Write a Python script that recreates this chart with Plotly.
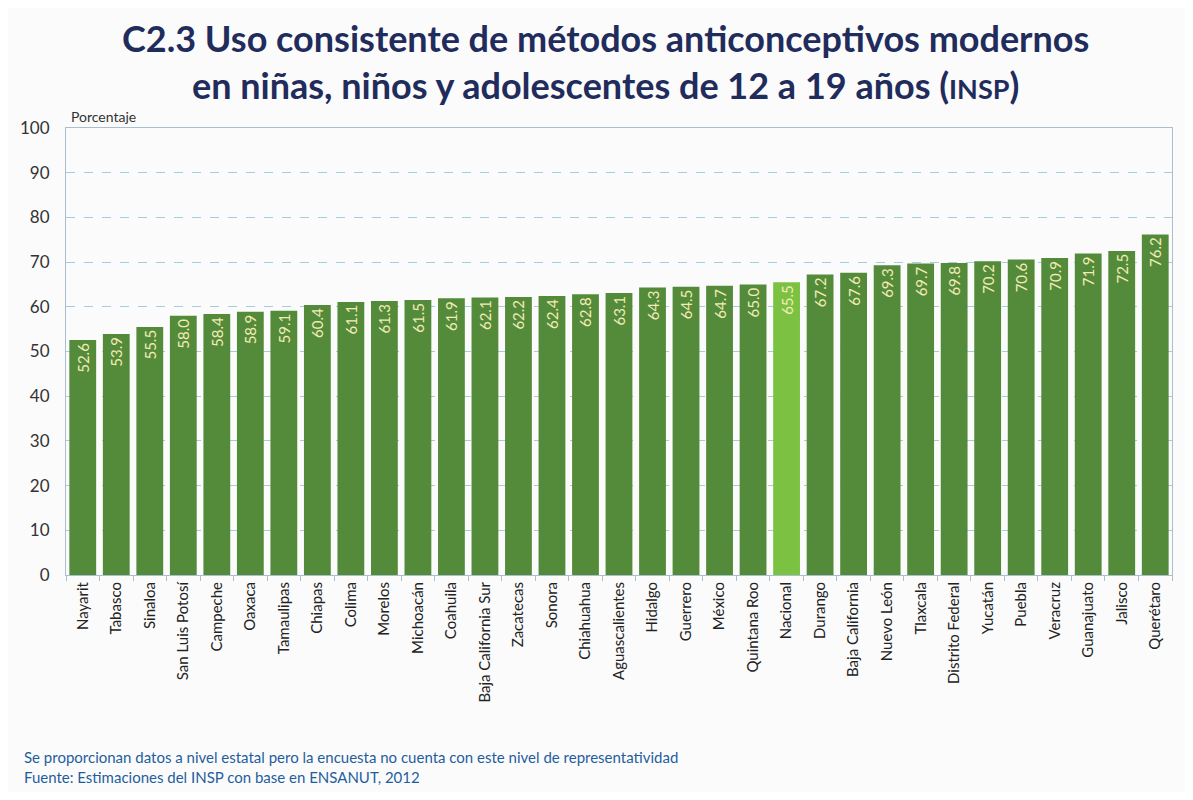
import plotly.graph_objects as go

estados = ["Nayarit", "Tabasco", "Sinaloa", "San Luis Potosí", "Campeche", "Oaxaca",
           "Tamaulipas", "Chiapas", "Colima", "Morelos", "Michoacán", "Coahuila",
           "Baja California Sur", "Zacatecas", "Sonora", "Chiahuahua", "Aguascalientes",
           "Hidalgo", "Guerrero", "México", "Quintana Roo", "Nacional", "Durango",
           "Baja California", "Nuevo León", "Tlaxcala", "Distrito Federal", "Yucatán",
           "Puebla", "Veracruz", "Guanajuato", "Jalisco", "Querétaro"]
porcentajes = [52.6, 53.9, 55.5, 58.0, 58.4, 58.9, 59.1, 60.4, 61.1, 61.3, 61.5, 61.9,
               62.1, 62.2, 62.4, 62.8, 63.1, 64.3, 64.5, 64.7, 65.0, 65.5, 67.2,
               67.6, 69.3, 69.7, 69.8, 70.2, 70.6, 70.9, 71.9, 72.5, 76.2]
y_ticks = [0, 10, 20, 30, 40, 50, 60, 70, 80, 90, 100]

verde = "#548B3A"
verde_claro = "#7CC242"
colores = [verde_claro if e == "Nacional" else verde for e in estados]

fig = go.Figure()
fig.add_trace(go.Bar(
    x=estados,
    y=porcentajes,
    marker_color=colores,
    marker_line_width=0,
    text=[f"{v:.1f}" for v in porcentajes],
    textposition="inside",
    insidetextanchor="end",
    textangle=-90,
    textfont=dict(color="#F2EBB5", size=15, family="Lato"),
    cliponaxis=False,
))

fig.update_layout(
    width=1177, height=784,
    margin=dict(l=54, r=13, t=120, b=217),
    paper_bgcolor="#FBFBFB",
    plot_bgcolor="#FBFBFB",
    bargap=0.2,
    showlegend=False,
    font=dict(family="Lato", color="#333333"),
    xaxis=dict(
        tickangle=-90,
        tickfont=dict(size=15, color="#222222"),
        ticks="outside", tickson="boundaries", ticklen=5, tickcolor="#A9BFD0",
        showline=True, linecolor="#A9BFD0", mirror=True,
        showgrid=False,
    ),
    yaxis=dict(
        range=[0, 100],
        tickvals=y_ticks,
        tickfont=dict(size=17, color="#333333"),
        showline=True, linecolor="#A9BFD0", mirror=True,
        showgrid=True, gridcolor="#A8CBE0", griddash="dash", gridwidth=1,
        zeroline=False,
        ticks="", ticklabelstandoff=12,
    ),
)

# titulo en dos lineas
fig.add_annotation(
    text="<b>C2.3 Uso consistente de métodos anticonceptivos modernos</b>",
    xref="paper", yref="paper", x=0.488, y=1.0, yshift=90, showarrow=False,
    font=dict(size=36, color="#1F2C5C", family="Lato"), xanchor="center", yanchor="middle",
)
fig.add_annotation(
    text="<b>en niñas, niños y adolescentes de 12 a 19 años (<span style='font-size:27px'>INSP</span>)</b>",
    xref="paper", yref="paper", x=0.488, y=1.0, yshift=43, showarrow=False,
    font=dict(size=36, color="#1F2C5C", family="Lato"), xanchor="center", yanchor="middle",
)

fig.add_annotation(
    text="Porcentaje", xref="paper", yref="paper", x=0.003, y=1.0, yshift=1,
    showarrow=False, xanchor="left", yanchor="bottom",
    font=dict(size=14, color="#333333", family="Lato"),
)

# notas al pie
fig.add_annotation(
    text="Se proporcionan datos a nivel estatal pero la encuesta no cuenta con este nivel de representatividad<br>Fuente: Estimaciones del INSP con base en ENSANUT, 2012",
    xref="paper", yref="paper", x=-0.0396, y=0, yshift=-171, showarrow=False,
    xanchor="left", yanchor="top", align="left",
    font=dict(size=15, color="#1F5E9E", family="Lato"),
)

fig.write_html("out.html")
